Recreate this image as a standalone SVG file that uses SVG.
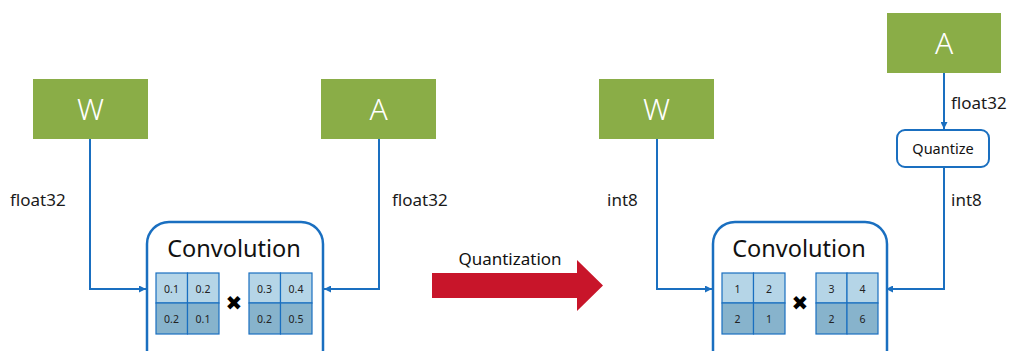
<svg xmlns="http://www.w3.org/2000/svg" width="1011" height="351" viewBox="0 0 1011 351">
  <style>
    .src { fill: #8aad47; }
    .srcLabel { font-family: "Noto Sans", "Liberation Sans", sans-serif; font-size: 30px; font-weight: 300; fill: #ffffff; text-anchor: middle; }
    .dtype { font-family: "Noto Sans", "Liberation Sans", sans-serif; font-size: 17px; fill: #1a1a1a; }
    .conv { fill: #ffffff; stroke: #1a6fc0; stroke-width: 2.5; }
    .convLabel { font-family: "Noto Sans", "Liberation Sans", sans-serif; font-size: 23.5px; fill: #111111; text-anchor: middle; }
    .cellTop { fill: #b5d5e7; stroke: #1a6fc0; stroke-width: 1.2; }
    .cellBot { fill: #87b3cc; stroke: #1a6fc0; stroke-width: 1.2; }
    .cellText { font-family: "Noto Sans", "Liberation Sans", sans-serif; font-size: 10.5px; fill: #222222; text-anchor: middle; }
    .times { font-family: "DejaVu Sans", sans-serif; font-size: 20px; font-weight: bold; fill: #000000; text-anchor: middle; }
    .wire { fill: none; stroke: #1a6fc0; stroke-width: 2; }
    .qbox { fill: #ffffff; stroke: #1a6fc0; stroke-width: 2; }
    .qLabel { font-family: "Noto Sans", "Liberation Sans", sans-serif; font-size: 14.5px; fill: #111111; text-anchor: middle; }
    .bigArrowLabel { font-family: "Noto Sans", "Liberation Sans", sans-serif; font-size: 17px; fill: #111111; text-anchor: middle; }
  </style>
  <defs>
    <marker id="head" viewBox="0 0 10 10" refX="10" refY="5" markerWidth="3.5" markerHeight="3.5" orient="auto" markerUnits="strokeWidth">
      <path d="M0,0 L10,5 L0,10 z" fill="#1a6fc0"/>
    </marker>
  </defs>

  <!-- connectors -->
  <g id="connectors">
    <path class="wire" d="M90,139 V289 H146" marker-end="url(#head)"/>
    <path class="wire" d="M379,139 V289 H324" marker-end="url(#head)"/>
    <path class="wire" d="M657,139 V289 H712" marker-end="url(#head)"/>
    <path class="wire" d="M944,73 V129" marker-end="url(#head)"/>
    <path class="wire" d="M944,167 V289 H886" marker-end="url(#head)"/>
  </g>

  <!-- dtype labels -->
  <text class="dtype" x="10" y="206">float32</text>
  <text class="dtype" x="392" y="206">float32</text>
  <text class="dtype" x="607" y="206">int8</text>
  <text class="dtype" x="951" y="206">int8</text>
  <text class="dtype" x="951" y="109">float32</text>

  <!-- float32 side -->
  <g id="w-float">
    <rect class="src" x="33" y="79" width="115" height="60"/>
    <text class="srcLabel" x="90.5" y="120">W</text>
  </g>
  <g id="a-float">
    <rect class="src" x="321" y="79" width="115" height="60"/>
    <text class="srcLabel" x="378.5" y="120">A</text>
  </g>
  <g id="conv-float">
    <rect class="conv" x="147" y="222" width="176" height="150" rx="22"/>
    <text class="convLabel" x="234" y="257">Convolution</text>
    <rect class="cellTop" x="156" y="273" width="31.5" height="30"/>
    <rect class="cellTop" x="187.5" y="273" width="31.5" height="30"/>
    <rect class="cellBot" x="156" y="303" width="31.5" height="31"/>
    <rect class="cellBot" x="187.5" y="303" width="31.5" height="31"/>
    <text class="cellText" x="171.5" y="293">0.1</text>
    <text class="cellText" x="203" y="293">0.2</text>
    <text class="cellText" x="171.5" y="323">0.2</text>
    <text class="cellText" x="203" y="323">0.1</text>
    <text class="times" x="234" y="310">✖</text>
    <rect class="cellTop" x="249" y="273" width="31.5" height="30"/>
    <rect class="cellTop" x="280.5" y="273" width="31.5" height="30"/>
    <rect class="cellBot" x="249" y="303" width="31.5" height="31"/>
    <rect class="cellBot" x="280.5" y="303" width="31.5" height="31"/>
    <text class="cellText" x="264.5" y="293">0.3</text>
    <text class="cellText" x="296" y="293">0.4</text>
    <text class="cellText" x="264.5" y="323">0.2</text>
    <text class="cellText" x="296" y="323">0.5</text>
  </g>

  <!-- quantization step -->
  <g id="quantization">
    <text class="bigArrowLabel" x="510" y="265">Quantization</text>
    <path d="M432,273 H577 V260 L603,285.5 L577,311 V298 H432 z" fill="#c8152a"/>
  </g>

  <!-- int8 side -->
  <g id="w-int">
    <rect class="src" x="599" y="79" width="115" height="60"/>
    <text class="srcLabel" x="656.5" y="120">W</text>
  </g>
  <g id="a-int">
    <rect class="src" x="887" y="13" width="114" height="60"/>
    <text class="srcLabel" x="944" y="54">A</text>
  </g>
  <g id="quantize">
    <rect class="qbox" x="897" y="130" width="92" height="37" rx="8"/>
    <text class="qLabel" x="943" y="153.5">Quantize</text>
  </g>
  <g id="conv-int">
    <rect class="conv" x="713" y="222" width="174" height="150" rx="22"/>
    <text class="convLabel" x="799" y="257">Convolution</text>
    <rect class="cellTop" x="722" y="273" width="31.5" height="30"/>
    <rect class="cellTop" x="753.5" y="273" width="31.5" height="30"/>
    <rect class="cellBot" x="722" y="303" width="31.5" height="31"/>
    <rect class="cellBot" x="753.5" y="303" width="31.5" height="31"/>
    <text class="cellText" x="737.5" y="293">1</text>
    <text class="cellText" x="769" y="293">2</text>
    <text class="cellText" x="737.5" y="323">2</text>
    <text class="cellText" x="769" y="323">1</text>
    <text class="times" x="800" y="310">✖</text>
    <rect class="cellTop" x="816" y="273" width="31" height="30"/>
    <rect class="cellTop" x="847" y="273" width="31" height="30"/>
    <rect class="cellBot" x="816" y="303" width="31" height="31"/>
    <rect class="cellBot" x="847" y="303" width="31" height="31"/>
    <text class="cellText" x="831.5" y="293">3</text>
    <text class="cellText" x="862.5" y="293">4</text>
    <text class="cellText" x="831.5" y="323">2</text>
    <text class="cellText" x="862.5" y="323">6</text>
  </g>
</svg>
